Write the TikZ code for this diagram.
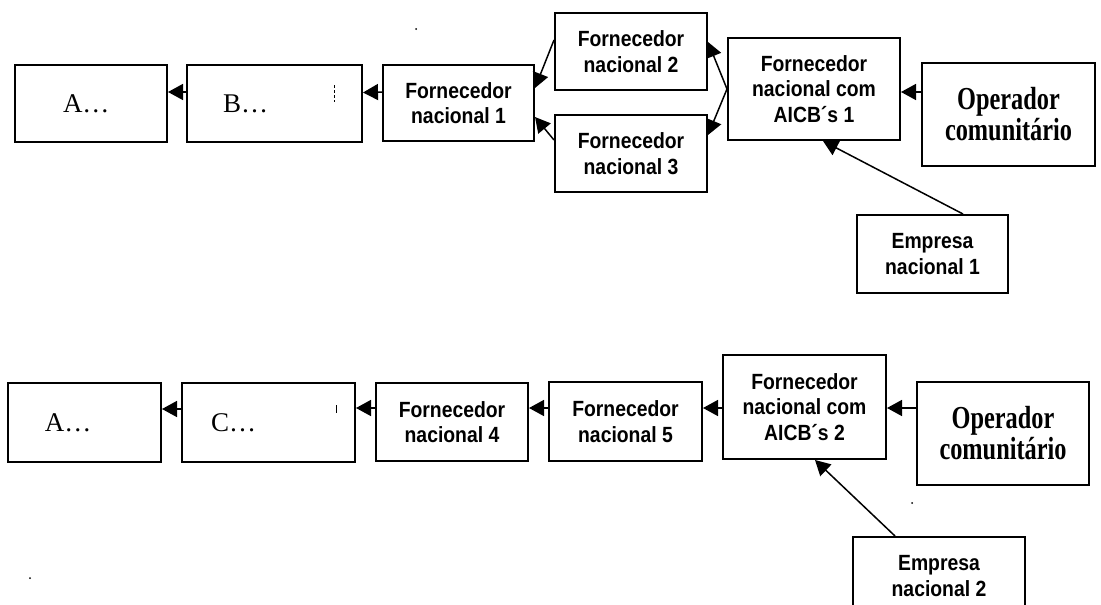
\documentclass[tikz,border=0pt]{standalone}
\usepackage{fontspec}
\setmainfont{Liberation Serif}
\newfontfamily\sfbold[FakeStretch=0.88]{Liberation Sans}
\newfontfamily\serbold[FakeStretch=0.76]{Liberation Serif}
\usetikzlibrary{arrows.meta}
\begin{document}
\begin{tikzpicture}[x=1pt,y=-1pt,
  box/.style={draw,line width=2pt,rectangle,inner ysep=0pt,inner xsep=0pt},
  fbox/.style={box,align=center,font=\sfbold\bfseries\fontsize{22}{25.5}\selectfont},
  obox/.style={box,align=center,font=\serbold\bfseries\fontsize{32}{31}\selectfont},
  lbox/.style={box,align=left,font=\fontsize{27}{30}\selectfont},
  arr/.style={line width=1.5pt,-{Triangle[length=15pt,width=16pt]}},
  speck/.style={fill=black,inner sep=0pt,minimum size=2pt,circle}]
\useasboundingbox (0,0) rectangle (1101,605);
% top row
\node[lbox,minimum height=77pt,inner xsep=48pt,text width=56pt] (A1) at (91,103.5) {A…};
\node[lbox,minimum height=77pt,inner xsep=36pt,text width=103pt] (B1) at (274.5,103.5) {B…};
\node[fbox,minimum width=151pt,minimum height=76pt] (F1) at (458.5,103) {Fornecedor\\nacional 1};
\node[fbox,minimum width=152pt,minimum height=77pt] (F2) at (631,51.5) {Fornecedor\\nacional 2};
\node[fbox,minimum width=152pt,minimum height=77pt] (F3) at (631,153.5) {Fornecedor\\nacional 3};
\node[fbox,minimum width=172pt,minimum height=102pt] (C1) at (814,89) {Fornecedor\\nacional com\\AICB´s 1};
\node[obox,minimum width=173pt,minimum height=103pt] (O1) at (1008.5,114.5) {Operador\\comunitário};
\node[fbox,minimum width=151pt,minimum height=78pt] (E1) at (932.5,254) {Empresa\\nacional 1};
% top connectors
\draw[arr] ([yshift=11.5pt]B1.west) -- ([yshift=11.5pt]A1.east);
\draw[arr] ([yshift=11pt]F1.west) -- ([yshift=11pt]B1.east);
\draw[arr] ([yshift=11.5pt]F2.west) -- ([yshift=15pt]F1.east);
\draw[arr] ([yshift=13.5pt]F3.west) -- ([yshift=-14pt]F1.east);
\draw[arr] (C1.west) -- ([yshift=9.5pt]F2.east);
\draw[arr] (C1.west) -- ([yshift=18.5pt]F3.east);
\coordinate (o1a) at ([yshift=22.5pt]O1.west);
\draw[arr] (o1a) -- (o1a -| C1.east);
\draw[arr] ([xshift=30.5pt]E1.north) -- ([xshift=9pt]C1.south);
% bottom row
\node[lbox,minimum height=79pt,inner xsep=37pt,text width=79pt] (A2) at (84.5,422.5) {A…};
\node[lbox,minimum height=79pt,inner xsep=29pt,text width=115pt] (C2) at (268.5,422.5) {C…};
\node[fbox,minimum width=152pt,minimum height=78pt] (F4) at (452,422) {Fornecedor\\nacional 4};
\node[fbox,minimum width=153pt,minimum height=79pt] (F5) at (625.5,421.5) {Fornecedor\\nacional 5};
\node[fbox,minimum width=163pt,minimum height=104pt] (C2c) at (804.5,407) {Fornecedor\\nacional com\\AICB´s 2};
\node[obox,minimum width=172pt,minimum height=103pt] (O2) at (1003,433.5) {Operador\\comunitário};
\node[fbox,minimum width=172pt,minimum height=78pt] (E2) at (939,576) {Empresa\\nacional 2};
% bottom connectors
\draw[arr] ([yshift=13.5pt]C2.west) -- ([yshift=13.5pt]A2.east);
\draw[arr] ([yshift=14pt]F4.west) -- ([yshift=14pt]F4.west -| C2.east);
\draw[arr] ([yshift=13.5pt]F5.west) -- ([yshift=13.5pt]F5.west -| F4.east);
\draw[arr] ([yshift=-1pt]C2c.west) -- ([yshift=-1pt]C2c.west -| F5.east);
\coordinate (o2a) at ([yshift=25.5pt]O2.west);
\draw[arr] (o2a) -- (o2a -| C2c.east);
\draw[arr] ([xshift=-44pt]E2.north) -- ([xshift=10.5pt]C2c.south);
% scan marks
\draw[line width=1pt,dash pattern=on 3pt off 2pt] (334,85) -- (334,102);
\draw[line width=1pt] (336,405) -- (336,413);
\node[speck] (s1) at (416,29) {};
\node[speck] (s2) at (912,503) {};
\node[speck] (s3) at (30,578) {};
\end{tikzpicture}
\end{document}
